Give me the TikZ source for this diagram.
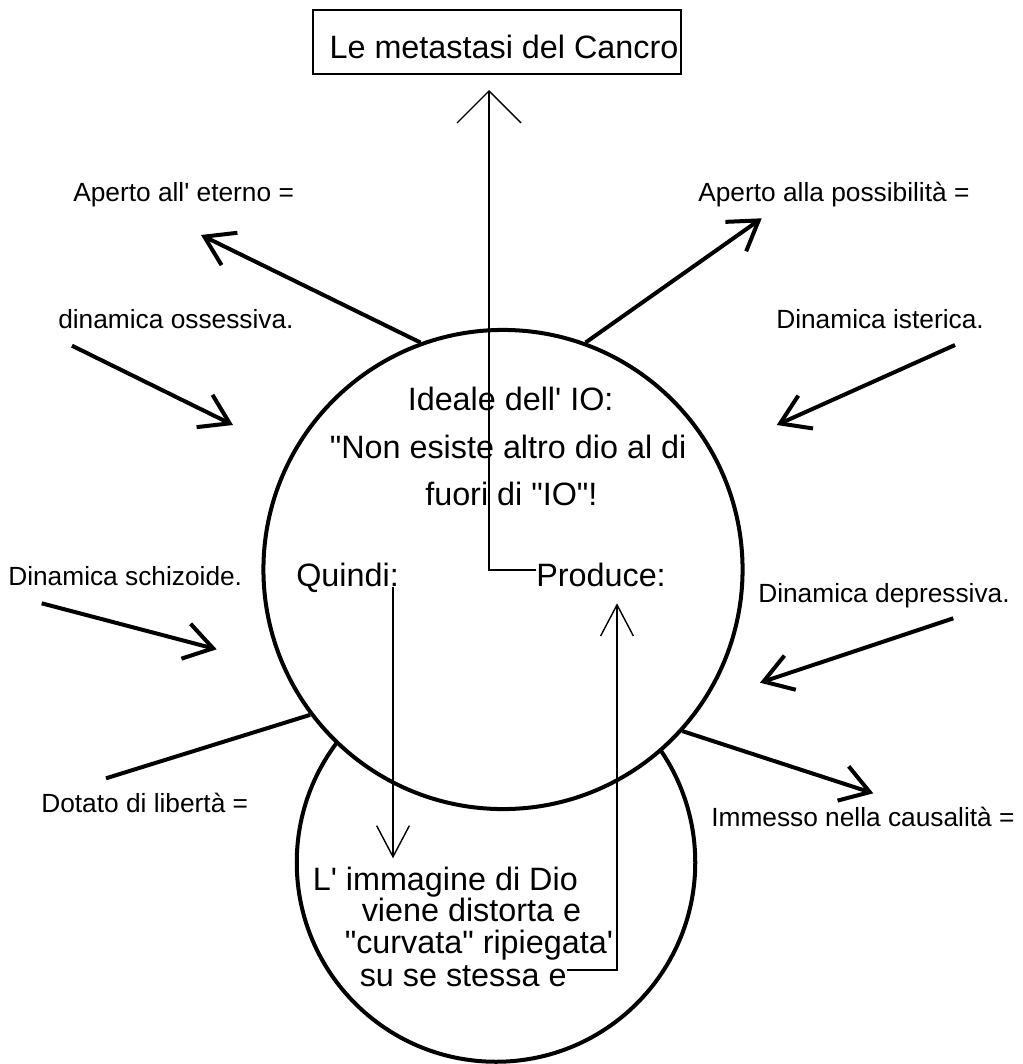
\documentclass[tikz,border=0pt]{standalone}
\usepackage{fontspec}
\setmainfont{Liberation Sans}[Ligatures=TeXOff]
\usepackage{tikz}
\usetikzlibrary{arrows.meta,positioning}
\tikzset{%
	bigtext/.style   = {font=\fontsize{23pt}{23pt}\selectfont, inner sep=0pt, anchor=base west},
	smalltext/.style = {font=\fontsize{18.7pt}{18.7pt}\selectfont, inner sep=0pt, anchor=base west},
	titlebox/.style  = {draw, rectangle, line width=1.4pt, minimum width=9.2cm, minimum height=1.6cm, inner sep=0pt, text height=0.8cm, text depth=0pt, font=\fontsize{23pt}{23pt}\selectfont},
	bubble/.style    = {draw, circle, line width=2.85pt, fill=white, inner sep=0pt},
	spoke/.style     = {line width=2.85pt},
	pointer/.style   = {line width=2.85pt, -{Straight Barb[sharp, length=0.7cm, width=0.9cm]}},
	thinarrow/.style = {line width=1pt, -{Straight Barb[sharp, length=0.78cm, width=0.82cm]}},
	widearrow/.style = {line width=1pt, -{Straight Barb[sharp, length=0.8cm, width=1.6cm]}},
}

\begin{document}
\begin{tikzpicture}[x=0.025cm, y=-0.025cm]
	\useasboundingbox (0,0) rectangle (1022,1064);

	\node[titlebox] (cancro) at (497,42) {\hspace*{0.35cm}Le metastasi del Cancro};

	\node[bubble, minimum size=9.96cm] (immagine) at (496,862.5) {};
	\node[bubble, minimum size=11.975cm] (ideale) at (503,569.5) {};

	\node[bigtext] (ideale1) at (407.5,410.7) {Ideale dell' IO:};
	\node[bigtext] (ideale2) at (329.5,458.3) {"Non esiste altro dio al di};
	\node[bigtext] (ideale3) at (425,505.7) {fuori di "IO"!};
	\node[bigtext] (quindi) at (296,586.7) {Quindi:};
	\node[bigtext] (produce) at (536,586.7) {Produce:};

	\node[bigtext] (imm1) at (312.5,890.7) {L' immagine di Dio};
	\node[bigtext] (imm2) at (361.5,921.7) {viene distorta e};
	\node[bigtext] (imm3) at (344.5,953.3) {"curvata" ripiegata'};
	\node[bigtext] (imm4) at (359.5,986) {su se stessa e};

	\node[smalltext] (eterno) at (73,201.7) {Aperto all' eterno =};
	\node[smalltext] (possibilita) at (698,201.7) {Aperto alla possibilità =};
	\node[smalltext] (ossessiva) at (58,328.3) {dinamica ossessiva.};
	\node[smalltext] (isterica) at (776,328.3) {Dinamica isterica.};
	\node[smalltext] (schizoide) at (8,585) {Dinamica schizoide.};
	\node[smalltext] (depressiva) at (758,602.5) {Dinamica depressiva.};
	\node[smalltext] (dotato) at (41,812) {Dotato di libertà =};
	\node[smalltext] (immesso) at (711,826.7) {Immesso nella causalità =};

	\coordinate (eternoTip) at (201,235);
	\coordinate (possTip) at (761.7,218.3);
	\coordinate (ossStart) at (72,345.7);
	\coordinate (ossTip) at (233,425);
	\coordinate (istStart) at (955,345);
	\coordinate (istTip) at (776.7,425);
	\coordinate (schStart) at (41.7,603.3);
	\coordinate (schTip) at (216.7,649.3);
	\coordinate (depStart) at (953.3,618.3);
	\coordinate (depTip) at (760,682.7);
	\coordinate (dotatoEnd) at (106,778.3);
	\coordinate (immessoTip) at (873.3,793.3);

	\draw[pointer] (ideale.110) -- (eternoTip);
	\draw[pointer] (ideale.70) -- (possTip);
	\draw[pointer] (ossStart) -- (ossTip);
	\draw[pointer] (istStart) -- (istTip);
	\draw[pointer] (schStart) -- (schTip);
	\draw[pointer] (depStart) -- (depTip);
	\draw[spoke] (ideale.217) -- (dotatoEnd);
	\draw[pointer] (ideale.318) -- (immessoTip);

	\coordinate (cancroTip) at (489,90);
	\coordinate (quindiFoot) at (393,587.3);
	\coordinate (quindiTip) at (393,858.3);
	\coordinate (produceTip) at (617,603.3);

	\draw[widearrow] ([yshift=0.125cm]produce.west) -| (cancroTip);
	\draw[thinarrow] (quindiFoot) -- (quindiTip);
	\draw[thinarrow] ([yshift=0.14cm]imm4.east) -| (produceTip);
\end{tikzpicture}
\end{document}
